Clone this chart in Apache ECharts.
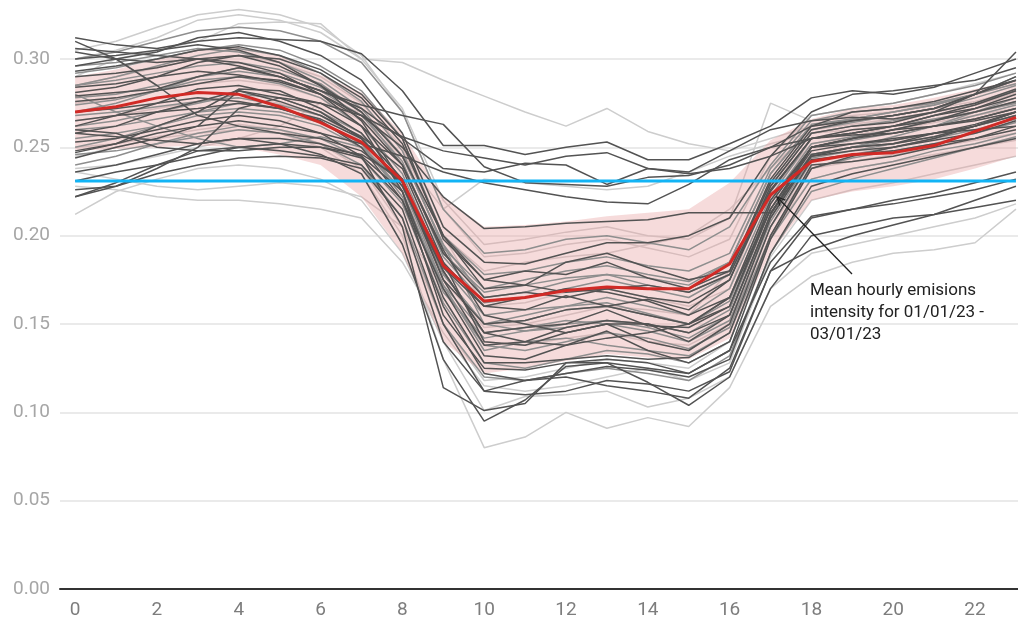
<!DOCTYPE html>
<html>
<head>
<meta charset="utf-8">
<title>Hourly emissions intensity</title>
<script src="https://cdn.jsdelivr.net/npm/echarts@6/dist/echarts.min.js"></script>
<style>
	html, body { margin: 0; padding: 0; background: #fff; }
	#chart { width: 1018px; height: 624px; }
</style>
</head>
<body>
<div id="chart"></div>
<script>

// hours of the day on the x axis
var hours = [0,1,2,3,4,5,6,7,8,9,10,11,12,13,14,15,16,17,18,19,20,21,22,23];
var hourLabels = [0,2,4,6,8,10,12,14,16,18,20,22];

// mean of all days and the shaded band around it
var meanLine = [0.270,0.273,0.278,0.281,0.280,0.273,0.264,0.253,0.231,0.183,0.163,0.165,0.169,0.171,0.170,0.170,0.184,0.223,0.242,0.246,0.247,0.251,0.259,0.267];
var bandUpper = [0.290,0.294,0.300,0.305,0.307,0.302,0.291,0.281,0.258,0.222,0.205,0.206,0.208,0.211,0.213,0.215,0.230,0.254,0.266,0.272,0.274,0.278,0.283,0.288];
var bandLower = [0.248,0.249,0.250,0.251,0.250,0.246,0.240,0.222,0.190,0.140,0.122,0.125,0.129,0.133,0.131,0.130,0.142,0.190,0.220,0.225,0.228,0.232,0.238,0.245];

// flat reference level (blue)
var referenceLevel = 0.231;

// individual days, split by how dark they are drawn
var darkDays = [
	[0.312,0.308,0.306,0.310,0.312,0.311,0.310,0.303,0.282,0.251,0.251,0.246,0.250,0.253,0.243,0.243,0.252,0.262,0.278,0.282,0.280,0.284,0.292,0.300],
	[0.304,0.300,0.298,0.300,0.296,0.290,0.282,0.274,0.268,0.263,0.239,0.230,0.229,0.228,0.233,0.234,0.240,0.250,0.262,0.265,0.268,0.272,0.280,0.288],
	[0.279,0.281,0.283,0.290,0.295,0.290,0.282,0.272,0.255,0.238,0.236,0.241,0.240,0.229,0.238,0.235,0.238,0.245,0.255,0.258,0.262,0.268,0.272,0.278],
	[0.262,0.268,0.275,0.283,0.285,0.280,0.275,0.268,0.256,0.248,0.244,0.240,0.245,0.247,0.238,0.236,0.248,0.260,0.265,0.267,0.266,0.270,0.275,0.283],
	[0.247,0.252,0.258,0.262,0.265,0.262,0.258,0.252,0.245,0.236,0.230,0.226,0.222,0.219,0.218,0.229,0.243,0.250,0.255,0.257,0.258,0.262,0.265,0.270],
	[0.284,0.286,0.290,0.293,0.291,0.287,0.280,0.268,0.250,0.222,0.204,0.205,0.207,0.208,0.209,0.213,0.213,0.213,0.245,0.250,0.252,0.258,0.263,0.270],
	[0.300,0.302,0.305,0.308,0.305,0.298,0.285,0.265,0.230,0.185,0.160,0.158,0.166,0.160,0.164,0.158,0.175,0.225,0.255,0.258,0.262,0.265,0.272,0.280],
	[0.258,0.262,0.270,0.276,0.282,0.278,0.270,0.255,0.228,0.180,0.145,0.148,0.150,0.158,0.149,0.148,0.160,0.215,0.248,0.252,0.255,0.258,0.262,0.268],
	[0.290,0.292,0.295,0.300,0.302,0.296,0.285,0.270,0.245,0.200,0.175,0.180,0.178,0.185,0.176,0.170,0.180,0.230,0.260,0.265,0.268,0.272,0.280,0.290],
	[0.244,0.250,0.255,0.262,0.282,0.276,0.268,0.256,0.238,0.185,0.140,0.138,0.145,0.150,0.140,0.135,0.150,0.210,0.245,0.248,0.250,0.254,0.258,0.265],
	[0.270,0.272,0.275,0.278,0.276,0.272,0.265,0.250,0.220,0.170,0.132,0.130,0.138,0.146,0.135,0.128,0.140,0.200,0.240,0.242,0.245,0.250,0.255,0.262],
	[0.306,0.304,0.302,0.300,0.298,0.292,0.280,0.262,0.225,0.155,0.125,0.124,0.128,0.128,0.125,0.122,0.135,0.198,0.238,0.245,0.250,0.255,0.262,0.270],
	[0.236,0.240,0.246,0.252,0.255,0.252,0.246,0.235,0.195,0.130,0.095,0.107,0.126,0.128,0.117,0.104,0.120,0.170,0.200,0.205,0.210,0.212,0.216,0.220],
	[0.253,0.255,0.260,0.265,0.268,0.265,0.258,0.245,0.205,0.114,0.101,0.105,0.128,0.130,0.128,0.122,0.135,0.185,0.211,0.215,0.218,0.222,0.226,0.232],
	[0.222,0.230,0.240,0.248,0.250,0.248,0.245,0.240,0.215,0.150,0.112,0.118,0.120,0.115,0.112,0.108,0.125,0.180,0.192,0.200,0.206,0.212,0.220,0.228],
	[0.296,0.300,0.304,0.312,0.315,0.310,0.302,0.288,0.258,0.205,0.185,0.184,0.190,0.196,0.196,0.200,0.210,0.245,0.270,0.280,0.282,0.285,0.288,0.295],
	[0.265,0.268,0.270,0.272,0.275,0.272,0.266,0.255,0.230,0.182,0.160,0.165,0.170,0.168,0.163,0.155,0.165,0.215,0.250,0.255,0.260,0.262,0.266,0.272],
	[0.281,0.284,0.290,0.298,0.302,0.300,0.292,0.278,0.252,0.200,0.170,0.172,0.185,0.190,0.182,0.175,0.180,0.232,0.262,0.270,0.272,0.276,0.282,0.288],
	[0.258,0.256,0.254,0.252,0.255,0.255,0.252,0.245,0.225,0.165,0.128,0.128,0.130,0.132,0.130,0.131,0.145,0.205,0.243,0.246,0.248,0.252,0.255,0.260],
	[0.276,0.278,0.282,0.286,0.290,0.288,0.280,0.266,0.240,0.192,0.155,0.150,0.145,0.150,0.150,0.140,0.155,0.212,0.250,0.255,0.260,0.265,0.270,0.276],
	[0.231,0.236,0.240,0.245,0.250,0.252,0.250,0.244,0.220,0.160,0.122,0.118,0.122,0.126,0.124,0.120,0.130,0.190,0.228,0.235,0.240,0.245,0.250,0.255],
	[0.293,0.296,0.300,0.305,0.307,0.302,0.294,0.280,0.255,0.198,0.175,0.172,0.168,0.170,0.165,0.162,0.175,0.228,0.258,0.262,0.264,0.270,0.280,0.304],
	[0.260,0.258,0.250,0.248,0.248,0.250,0.250,0.246,0.232,0.180,0.145,0.140,0.138,0.142,0.145,0.150,0.160,0.218,0.250,0.252,0.254,0.258,0.260,0.262],
	[0.248,0.252,0.262,0.270,0.283,0.282,0.272,0.258,0.232,0.175,0.138,0.140,0.148,0.152,0.150,0.145,0.155,0.212,0.246,0.250,0.252,0.256,0.262,0.270],
	[0.226,0.228,0.235,0.240,0.244,0.245,0.244,0.238,0.210,0.140,0.112,0.110,0.112,0.118,0.116,0.112,0.123,0.180,0.210,0.215,0.220,0.224,0.230,0.236],
	[0.310,0.300,0.285,0.268,0.262,0.258,0.255,0.248,0.230,0.175,0.150,0.152,0.158,0.160,0.155,0.150,0.165,0.220,0.250,0.255,0.258,0.262,0.266,0.272],
	[0.222,0.228,0.238,0.250,0.272,0.278,0.275,0.262,0.240,0.190,0.165,0.168,0.165,0.170,0.172,0.168,0.178,0.226,0.255,0.260,0.262,0.268,0.274,0.282]
];

var midDays = [
	[0.300,0.304,0.310,0.316,0.318,0.316,0.310,0.298,0.270,0.215,0.190,0.192,0.198,0.200,0.196,0.192,0.205,0.240,0.268,0.272,0.275,0.280,0.285,0.292],
	[0.285,0.288,0.292,0.296,0.298,0.294,0.286,0.270,0.240,0.190,0.168,0.172,0.176,0.178,0.172,0.168,0.178,0.228,0.258,0.262,0.265,0.270,0.275,0.282],
	[0.270,0.275,0.282,0.290,0.295,0.292,0.284,0.270,0.245,0.195,0.150,0.152,0.158,0.160,0.155,0.150,0.165,0.220,0.252,0.256,0.260,0.265,0.270,0.276],
	[0.250,0.255,0.262,0.270,0.275,0.272,0.265,0.252,0.225,0.170,0.138,0.135,0.140,0.145,0.142,0.136,0.148,0.205,0.242,0.246,0.250,0.255,0.260,0.266],
	[0.262,0.265,0.270,0.275,0.280,0.278,0.270,0.258,0.232,0.178,0.150,0.155,0.160,0.165,0.160,0.155,0.170,0.222,0.255,0.258,0.262,0.266,0.270,0.275],
	[0.278,0.280,0.285,0.290,0.293,0.290,0.282,0.268,0.242,0.188,0.162,0.165,0.170,0.175,0.170,0.165,0.178,0.230,0.260,0.264,0.268,0.272,0.278,0.285],
	[0.240,0.245,0.252,0.258,0.262,0.260,0.255,0.244,0.218,0.162,0.128,0.125,0.130,0.135,0.133,0.128,0.140,0.198,0.232,0.238,0.242,0.248,0.252,0.258],
	[0.292,0.295,0.300,0.305,0.308,0.305,0.296,0.282,0.255,0.200,0.178,0.180,0.185,0.188,0.183,0.180,0.190,0.238,0.265,0.270,0.272,0.275,0.280,0.288],
	[0.255,0.258,0.262,0.268,0.270,0.268,0.262,0.250,0.225,0.168,0.142,0.146,0.150,0.152,0.148,0.142,0.155,0.210,0.246,0.250,0.254,0.258,0.262,0.268],
	[0.268,0.270,0.273,0.276,0.278,0.274,0.268,0.256,0.228,0.172,0.135,0.140,0.142,0.138,0.135,0.132,0.145,0.200,0.238,0.244,0.248,0.252,0.258,0.264],
	[0.285,0.290,0.296,0.302,0.306,0.302,0.292,0.276,0.248,0.193,0.170,0.175,0.180,0.183,0.178,0.174,0.185,0.235,0.263,0.266,0.270,0.274,0.280,0.290],
	[0.246,0.248,0.252,0.256,0.260,0.258,0.252,0.240,0.210,0.150,0.120,0.118,0.122,0.125,0.122,0.118,0.132,0.190,0.225,0.232,0.238,0.244,0.250,0.256],
	[0.274,0.277,0.282,0.288,0.290,0.286,0.278,0.262,0.235,0.182,0.155,0.158,0.160,0.162,0.156,0.150,0.163,0.218,0.250,0.254,0.258,0.262,0.268,0.274],
	[0.296,0.298,0.302,0.306,0.304,0.298,0.288,0.272,0.245,0.195,0.165,0.168,0.174,0.178,0.176,0.172,0.185,0.235,0.262,0.266,0.270,0.274,0.280,0.286],
	[0.260,0.262,0.266,0.270,0.272,0.270,0.264,0.252,0.222,0.172,0.145,0.148,0.152,0.150,0.146,0.140,0.152,0.208,0.244,0.248,0.252,0.256,0.262,0.268],
	[0.280,0.270,0.262,0.255,0.250,0.252,0.256,0.250,0.230,0.178,0.150,0.146,0.148,0.152,0.150,0.145,0.158,0.215,0.246,0.250,0.256,0.262,0.270,0.278]
];

var lightDays = [
	[0.290,0.300,0.305,0.310,0.320,0.321,0.320,0.300,0.298,0.288,0.279,0.270,0.262,0.272,0.259,0.252,0.248,0.255,0.262,0.265,0.268,0.272,0.276,0.282],
	[0.245,0.250,0.255,0.258,0.260,0.258,0.250,0.235,0.200,0.130,0.080,0.086,0.100,0.091,0.097,0.092,0.114,0.160,0.177,0.185,0.190,0.192,0.196,0.215],
	[0.212,0.225,0.232,0.238,0.240,0.238,0.232,0.220,0.190,0.140,0.101,0.109,0.110,0.112,0.103,0.108,0.120,0.170,0.190,0.195,0.200,0.205,0.210,0.218],
	[0.228,0.226,0.222,0.220,0.220,0.218,0.215,0.210,0.185,0.145,0.115,0.112,0.115,0.120,0.125,0.118,0.128,0.188,0.220,0.226,0.230,0.235,0.240,0.245],
	[0.300,0.305,0.312,0.322,0.325,0.322,0.315,0.300,0.272,0.220,0.195,0.198,0.202,0.205,0.200,0.198,0.210,0.275,0.265,0.268,0.270,0.275,0.280,0.286],
	[0.265,0.268,0.272,0.276,0.278,0.275,0.268,0.254,0.228,0.175,0.148,0.150,0.155,0.160,0.158,0.155,0.180,0.225,0.252,0.256,0.260,0.264,0.268,0.272],
	[0.285,0.290,0.295,0.300,0.302,0.298,0.290,0.275,0.250,0.200,0.180,0.185,0.188,0.190,0.195,0.200,0.215,0.238,0.260,0.263,0.266,0.270,0.274,0.280],
	[0.250,0.252,0.256,0.260,0.263,0.260,0.252,0.238,0.205,0.150,0.118,0.120,0.125,0.130,0.128,0.125,0.140,0.200,0.232,0.238,0.242,0.246,0.250,0.254],
	[0.236,0.232,0.228,0.226,0.228,0.230,0.228,0.222,0.205,0.170,0.140,0.138,0.142,0.145,0.140,0.138,0.150,0.205,0.238,0.242,0.246,0.250,0.254,0.258],
	[0.275,0.278,0.282,0.286,0.288,0.285,0.278,0.265,0.245,0.215,0.232,0.230,0.228,0.226,0.228,0.236,0.245,0.252,0.258,0.260,0.262,0.266,0.270,0.275],
	[0.305,0.310,0.318,0.325,0.328,0.325,0.318,0.302,0.270,0.215,0.188,0.190,0.195,0.198,0.193,0.188,0.198,0.245,0.268,0.272,0.275,0.280,0.286,0.292],
	[0.238,0.240,0.245,0.250,0.255,0.262,0.275,0.270,0.245,0.200,0.160,0.162,0.168,0.170,0.165,0.160,0.170,0.232,0.250,0.256,0.262,0.268,0.274,0.281]
];

var annotationText = 'Mean hourly emisions\nintensity for 01/01/23 -\n03/01/23';

/**
 * Pairs each hour with its value so the lines can sit on a value x axis
 * @param {Array<number>} values
 */
function toPoints(values){
	return values.map(function(v, i){ return [hours[i], v]; });
}

/**
 * One thin grey line per day
 * @param {Array<Array<number>>} days
 * @param {string} color
 * @param {number} z
 */
function dayLines(days, color, z){
	return days.map(function(values){
		return {
			type: 'line',
			data: toPoints(values),
			showSymbol: false,
			silent: true,
			z: z,
			lineStyle: { color: color, width: 1.5 }
		};
	});
}

var series = [];

// faint days sit beneath the shaded band
series = series.concat(dayLines(lightDays, '#cdcdcd', 2));

// shaded band between the lower and upper bounds
series.push({
	type: 'custom',
	silent: true,
	z: 3,
	data: [[0, bandLower[0]]],
	renderItem: function(params, api){
		var top = bandUpper.map(function(v, i){ return api.coord([hours[i], v]); });
		var bottom = bandLower.map(function(v, i){ return api.coord([hours[i], v]); }).reverse();
		return {
			type: 'polygon',
			shape: { points: top.concat(bottom) },
			style: { fill: 'rgba(232,160,160,0.38)' }
		};
	}
});

series = series.concat(dayLines(midDays, '#8e8e8e', 4));
series = series.concat(dayLines(darkDays, '#535353', 5));

// reference level
series.push({
	type: 'line',
	data: toPoints(hours.map(function(){ return referenceLevel; })),
	showSymbol: false,
	silent: true,
	z: 6,
	lineStyle: { color: '#12b4f5', width: 3 }
});

// mean line on top
series.push({
	type: 'line',
	data: toPoints(meanLine),
	showSymbol: false,
	silent: true,
	z: 7,
	lineStyle: { color: '#d12a26', width: 3 }
});

// arrow from the label to the mean line
var arrowTail = [852, 274];
var arrowHead = [777, 197];
var dx = arrowHead[0] - arrowTail[0];
var dy = arrowHead[1] - arrowTail[1];
var len = Math.sqrt(dx * dx + dy * dy);
var ux = dx / len, uy = dy / len;
var wing = 9, spread = 0.45;
function wingPoint(sign){
	var c = Math.cos(spread * sign), s = Math.sin(spread * sign);
	var bx = -(ux * c - uy * s), by = -(ux * s + uy * c);
	return [arrowHead[0] + bx * wing, arrowHead[1] + by * wing];
}

var option = {
	animation: false,
	backgroundColor: '#ffffff',
	textStyle: { fontFamily: 'Roboto' },
	grid: { left: 60, right: 0, top: 6, bottom: 35, containLabel: false },
	xAxis: {
		type: 'value',
		min: -0.37,
		max: 23.05,
		axisLine: { show: true, onZero: false, lineStyle: { color: '#333333', width: 2 } },
		axisTick: { show: false },
		splitLine: { show: false },
		axisLabel: {
			customValues: hourLabels,
			color: '#7d7d7d',
			fontSize: 19,
			fontFamily: 'Roboto',
			margin: 12
		}
	},
	yAxis: {
		type: 'value',
		min: 0,
		max: 0.33,
		interval: 0.05,
		axisLine: { show: false },
		axisTick: { show: false },
		splitLine: { show: true, showMaxLine: false, lineStyle: { color: '#e3e3e3', width: 1.5 } },
		axisLabel: {
			showMaxLabel: false,
			color: '#a6a6a6',
			fontSize: 19,
			fontFamily: 'Roboto',
			margin: 10,
			formatter: function(v){ return v.toFixed(2); }
		}
	},
	series: series,
	graphic: [
		{
			type: 'line',
			z: 100,
			shape: { x1: arrowTail[0], y1: arrowTail[1], x2: arrowHead[0], y2: arrowHead[1] },
			style: { stroke: '#222222', lineWidth: 1.3 }
		},
		{
			type: 'polyline',
			z: 100,
			shape: { points: [wingPoint(1), arrowHead, wingPoint(-1)] },
			style: { stroke: '#222222', lineWidth: 1.3, fill: null }
		},
		{
			type: 'text',
			z: 100,
			left: 810,
			top: 280,
			style: {
				text: annotationText,
				font: '17px Roboto',
				fill: '#222222',
				lineHeight: 22
			}
		}
	]
};

var chart = echarts.init(document.getElementById('chart'));
chart.setOption(option);

</script>
</body>
</html>
